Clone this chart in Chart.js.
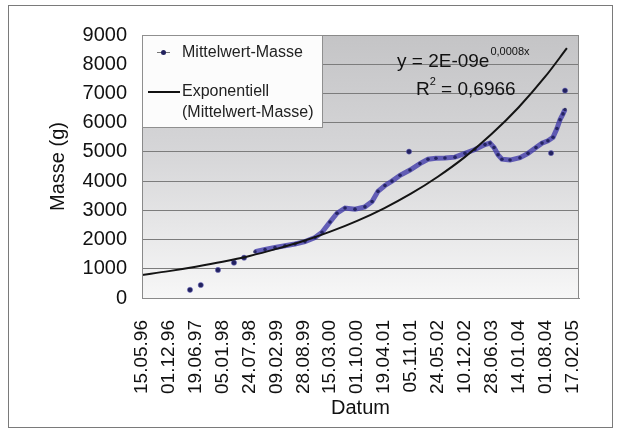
<!DOCTYPE html>
<html>
<head>
<meta charset="utf-8">
<title>Mittelwert-Masse</title>
<script src="https://cdn.jsdelivr.net/npm/chart.js@4.4.1/dist/chart.umd.min.js"></script>
<style>
  html, body { margin: 0; padding: 0; background: #fff; }
  #wrap { position: relative; width: 621px; height: 429px; }
  #wrap canvas { position: absolute; left: 0; top: 0; }
  #frame { position: absolute; left: 8px; top: 5px; width: 603px; height: 421px;
           border: 1px solid #7a7a7a; pointer-events: none; }
</style>
</head>
<body>
<div id="wrap">
  <canvas id="chart" width="621" height="429"></canvas>
  <div id="frame"></div>
</div>
<script>
// Dates are spreadsheet day serials (1 = 01.01.1900).

// Continuous run of averaged masses (g)
const serialDays = [36040, 36115, 36189, 36263, 36338, 36412, 36487, 36539, 36598, 36650,
                    36710, 36784, 36858, 36911, 36955, 37007, 37059, 37119, 37193, 37267,
                    37327, 37386, 37453, 37528, 37602, 37676, 37751, 37788, 37818, 37848,
                    37877, 37937, 38011, 38071, 38130, 38175, 38219, 38257, 38286, 38309,
                    38331, 38346];
const serialMass = [1585, 1660, 1730, 1790, 1850, 1930, 2070, 2250, 2600, 2900,
                    3080, 3040, 3120, 3300, 3650, 3850, 4000, 4200, 4380, 4600,
                    4750, 4780, 4790, 4820, 4950, 5080, 5250, 5300, 5150, 4900,
                    4750, 4720, 4800, 4950, 5150, 5300, 5380, 5500, 5800, 6100,
                    6300, 6450];

// Single measurements outside the continuous run (g)
const singleDays = [35557, 35637, 35765, 35884, 35959, 37186, 38242, 38346];
const singleMass = [280, 445, 960, 1210, 1380, 5010, 4960, 7100];

// Exponential trend line (g)
const trendDays = [35200, 35400, 35600, 35800, 36000, 36200, 36400, 36600, 36800,
                   37000, 37200, 37400, 37600, 37800, 38000, 38200, 38360];
const trendMass = [790, 920, 1070, 1240, 1440, 1680, 1950, 2270, 2640,
                   3070, 3570, 4150, 4820, 5610, 6520, 7580, 8550];

// Axis ticks
const xTickDays = [35200, 35400, 35600, 35800, 36000, 36200, 36400, 36600, 36800,
                   37000, 37200, 37400, 37600, 37800, 38000, 38200, 38400];
const xTickLabels = ['15.05.96', '01.12.96', '19.06.97', '05.01.98', '24.07.98', '09.02.99',
                     '28.08.99', '15.03.00', '01.10.00', '19.04.01', '05.11.01', '24.05.02',
                     '10.12.02', '28.06.03', '14.01.04', '01.08.04', '17.02.05'];
const yTicks = [0, 1000, 2000, 3000, 4000, 5000, 6000, 7000, 8000, 9000];

const FONT = '"Liberation Sans", Arial, Helvetica, sans-serif';
const MARK = '#22225e';

const toPoints = (xs, ys) => xs.map((x, i) => ({ x: x, y: ys[i] }));

// Plot-area fill: grey fading to white towards the bottom
const plotBackground = {
  id: 'plotBackground',
  beforeDraw(chart) {
    const { ctx, chartArea: a } = chart;
    ctx.save();
    ctx.fillStyle = '#ffffff';
    ctx.fillRect(0, 0, chart.width, chart.height);
    const g = ctx.createLinearGradient(0, a.top, 0, a.bottom);
    g.addColorStop(0, '#c4c4c6');
    g.addColorStop(0.45, '#d6d6d8');
    g.addColorStop(1, '#f7f7f7');
    ctx.fillStyle = g;
    ctx.fillRect(a.left, a.top, a.right - a.left, a.bottom - a.top);
    ctx.restore();
  }
};

// Frame, legend box and trend equation
const annotations = {
  id: 'annotations',
  afterDraw(chart) {
    const { ctx, chartArea: a } = chart;
    ctx.save();
    ctx.strokeStyle = '#8a8a8a';
    ctx.lineWidth = 1;
    ctx.strokeRect(Math.round(a.left) + 0.5, Math.round(a.top) + 0.5,
                   Math.round(a.right - a.left) - 1, Math.round(a.bottom - a.top));

    // legend
    const lx = Math.round(a.left), ly = Math.round(a.top);
    ctx.fillStyle = '#fcfcfc';
    ctx.fillRect(lx + 0.5, ly + 0.5, 180, 92);
    ctx.strokeStyle = '#8f8f8f';
    ctx.strokeRect(lx + 0.5, ly + 0.5, 180, 92);

    ctx.strokeStyle = '#777';
    ctx.lineWidth = 1;
    ctx.beginPath();
    ctx.moveTo(lx + 15, ly + 17.5);
    ctx.lineTo(lx + 28, ly + 17.5);
    ctx.stroke();
    ctx.fillStyle = MARK;
    ctx.beginPath();
    ctx.arc(lx + 21.5, ly + 17.5, 2.5, 0, Math.PI * 2);
    ctx.fill();

    ctx.strokeStyle = '#111';
    ctx.lineWidth = 2;
    ctx.beginPath();
    ctx.moveTo(lx + 6, ly + 57);
    ctx.lineTo(lx + 38, ly + 57);
    ctx.stroke();

    ctx.fillStyle = '#222';
    ctx.font = '16px ' + FONT;
    ctx.textAlign = 'left';
    ctx.textBaseline = 'middle';
    ctx.fillText('Mittelwert-Masse', lx + 40, ly + 18);
    ctx.fillText('Exponentiell', lx + 40, ly + 57);
    ctx.fillText('(Mittelwert-Masse)', lx + 40, ly + 78);

    // trend equation
    ctx.fillStyle = '#111';
    ctx.font = '19px ' + FONT;
    let x = 397;
    const t1 = 'y = 2E-09e';
    ctx.fillText(t1, x, 62);
    x += ctx.measureText(t1).width + 1;
    ctx.font = '11px ' + FONT;
    ctx.fillText('0,0008x', x, 52);

    x = 416;
    ctx.font = '19px ' + FONT;
    ctx.fillText('R', x, 90);
    x += ctx.measureText('R').width;
    ctx.font = '11px ' + FONT;
    ctx.fillText('2', x, 82);
    x += ctx.measureText('2').width;
    ctx.font = '19px ' + FONT;
    ctx.fillText(' = 0,6966', x, 90);
    ctx.restore();
  }
};

new Chart(document.getElementById('chart'), {
  type: 'scatter',
  data: {
    datasets: [
      {
        label: 'Exponentiell (Mittelwert-Masse)',
        data: toPoints(trendDays, trendMass),
        showLine: true,
        borderColor: '#141414',
        borderWidth: 2,
        pointRadius: 0,
        cubicInterpolationMode: 'monotone',
        order: 0
      },
      {
        label: 'Mittelwert-Masse',
        data: toPoints(serialDays, serialMass),
        showLine: true,
        borderColor: 'rgba(66, 60, 170, 0.8)',
        borderWidth: 5,
        pointRadius: 1.8,
        pointBackgroundColor: 'rgba(30, 30, 90, 0.9)',
        pointBorderWidth: 0,
        order: 1
      },
      {
        label: 'Mittelwert-Masse (einzeln)',
        data: toPoints(singleDays, singleMass),
        showLine: false,
        pointRadius: 2.6,
        pointBackgroundColor: MARK,
        pointBorderColor: 'rgba(110, 105, 200, 0.5)',
        pointBorderWidth: 1,
        order: 1
      }
    ]
  },
  options: {
    responsive: false,
    animation: false,
    devicePixelRatio: 1,
    layout: { padding: { left: 0, top: 35, right: 42, bottom: 0 } },
    plugins: {
      legend: { display: false },
      tooltip: { enabled: false }
    },
    scales: {
      x: {
        type: 'linear',
        min: 35200,
        max: 38450,
        afterBuildTicks(scale) {
          scale.ticks = xTickDays.map(v => ({ value: v }));
        },
        afterFit(scale) { scale.height = 131; },
        grid: { display: false },
        border: { display: true, color: '#8a8a8a' },
        ticks: {
          autoSkip: false,
          minRotation: 90,
          maxRotation: 90,
          padding: 14,
          color: '#111',
          font: { family: FONT, size: 19 },
          callback: (v, i) => xTickLabels[i]
        },
        title: {
          display: true,
          text: 'Datum',
          color: '#111',
          font: { family: FONT, size: 20 },
          padding: { top: 0, bottom: 9 }
        }
      },
      y: {
        min: 0,
        max: 9000,
        afterBuildTicks(scale) {
          scale.ticks = yTicks.map(v => ({ value: v }));
        },
        afterFit(scale) { scale.width = 142; },
        grid: { color: '#7c7c7c', lineWidth: 1, drawTicks: false },
        border: { display: true, color: '#8a8a8a' },
        ticks: {
          padding: 15,
          color: '#111',
          font: { family: FONT, size: 20 },
          callback: v => String(v)
        },
        title: {
          display: true,
          text: 'Masse (g)',
          color: '#111',
          font: { family: FONT, size: 20 },
          padding: { top: 46, bottom: 0 }
        }
      }
    }
  },
  plugins: [plotBackground, annotations]
});
</script>
</body>
</html>
